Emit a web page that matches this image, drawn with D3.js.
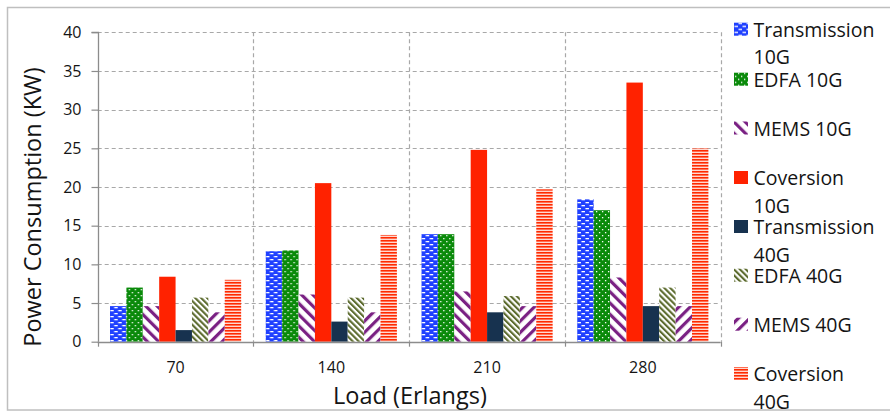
<!DOCTYPE html>
<html>
<head>
<meta charset="utf-8">
<script src="https://cdn.jsdelivr.net/npm/d3@7/dist/d3.min.js"></script>
<style>
  html, body { margin: 0; padding: 0; background: #fff; }
  svg { display: block; font-family: "Open Sans", sans-serif; }
</style>
</head>
<body>
<svg id="chart" width="890" height="412"></svg>
<script>
// Load points (Erlangs)
const categories = ["70", "140", "210", "280"];

// Power consumption per component (kW)
const transmission10G = [4.6, 11.7, 13.9, 18.4];
const edfa10G         = [7.0, 11.8, 13.9, 17.0];
const mems10G         = [4.6, 6.1, 6.5, 8.3];
const conversion10G   = [8.4, 20.5, 24.8, 33.5];
const transmission40G = [1.5, 2.6, 3.8, 4.6];
const edfa40G         = [5.7, 5.7, 5.9, 7.0];
const mems40G         = [3.8, 3.8, 4.6, 4.6];
const conversion40G   = [8.0, 13.8, 19.7, 25.0];

const seriesKeys = ["t10", "e10", "m10", "c10", "t40", "e40", "m40", "c40"];
const seriesLabels = [
  ["Transmission", "10G"], ["EDFA 10G"], ["MEMS 10G"], ["Coversion", "10G"],
  ["Transmission", "40G"], ["EDFA 40G"], ["MEMS 40G"], ["Coversion", "40G"]
];
const seriesValues = [transmission10G, edfa10G, mems10G, conversion10G,
                      transmission40G, edfa40G, mems40G, conversion40G];

const yTicks = [0, 5, 10, 15, 20, 25, 30, 35, 40];

const svg = d3.select("#chart");
const margin = { left: 97.7, right: 720.7, top: 32.3, bottom: 341.7 };
const textColor = "#141414";

// ---- fill patterns ----
const defs = svg.append("defs");
function pattern(id, w, h, draw, transform) {
  const p = defs.append("pattern").attr("id", id)
    .attr("patternUnits", "userSpaceOnUse").attr("width", w).attr("height", h);
  if (transform) p.attr("patternTransform", transform);
  draw(p);
}
// blue with white brick dashes
pattern("p-t10", 8, 6, p => {
  p.append("rect").attr("width", 8).attr("height", 6).attr("fill", "#1f40ff");
  p.append("rect").attr("x", 0.5).attr("y", 1).attr("width", 3.5).attr("height", 1.3).attr("fill", "#fff");
  p.append("rect").attr("x", 4.5).attr("y", 4).attr("width", 3.5).attr("height", 1.3).attr("fill", "#fff");
});
// green with white dots
pattern("p-e10", 6, 6, p => {
  p.append("rect").attr("width", 6).attr("height", 6).attr("fill", "#0a8a0a");
  p.append("rect").attr("x", 1).attr("y", 1).attr("width", 1.3).attr("height", 1.3).attr("fill", "#fff");
  p.append("rect").attr("x", 4).attr("y", 4).attr("width", 1.3).attr("height", 1.3).attr("fill", "#fff");
});
// wide purple diagonals
pattern("p-m10", 8, 8, p => {
  p.append("rect").attr("width", 8).attr("height", 8).attr("fill", "#fff");
  p.append("rect").attr("width", 3.2).attr("height", 8).attr("fill", "#7a2183");
}, "rotate(-45)");
pattern("p-m40", 8, 8, p => {
  p.append("rect").attr("width", 8).attr("height", 8).attr("fill", "#fff");
  p.append("rect").attr("width", 3.2).attr("height", 8).attr("fill", "#7a2183");
}, "rotate(45)");
// thin olive diagonals
pattern("p-e40", 4.2, 4.2, p => {
  p.append("rect").attr("width", 4.2).attr("height", 4.2).attr("fill", "#fff");
  p.append("rect").attr("width", 2.1).attr("height", 4.2).attr("fill", "#5c6b2e");
}, "rotate(-45)");
// red horizontal lines
pattern("p-c40", 4, 3, p => {
  p.append("rect").attr("width", 4).attr("height", 3).attr("fill", "#ffd8d0");
  p.append("rect").attr("y", 0).attr("width", 4).attr("height", 1.6).attr("fill", "#ff2a00");
});

const fills = {
  t10: "url(#p-t10)", e10: "url(#p-e10)", m10: "url(#p-m10)", c10: "#ff2200",
  t40: "#17324f", e40: "url(#p-e40)", m40: "url(#p-m40)", c40: "url(#p-c40)"
};

// ---- outer frame ----
svg.append("rect").attr("x", 7.5).attr("y", 7.5).attr("width", 900).attr("height", 402.5)
  .attr("fill", "#fff").attr("stroke", "#bfbfbf").attr("stroke-width", 1.5);

// ---- scales ----
const x0 = d3.scaleBand().domain(categories).range([margin.left, margin.right]);
const x1 = d3.scaleBand().domain(seriesKeys)
  .range([12.3, x0.bandwidth() - 12.3]);
const y = d3.scaleLinear().domain([0, 40]).range([margin.bottom, margin.top]);

const gridColor = "#a8a8a8";

// horizontal grid
svg.append("g").selectAll("line").data(yTicks.filter(d => d > 0)).join("line")
  .attr("x1", margin.left).attr("x2", margin.right)
  .attr("y1", d => Math.round(y(d)) + 0.5).attr("y2", d => Math.round(y(d)) + 0.5)
  .attr("stroke", gridColor).attr("stroke-width", 1.2).attr("stroke-dasharray", "4,3");

// vertical grid at category boundaries
const boundaries = categories.map(c => x0(c) + x0.bandwidth());
svg.append("g").selectAll("line").data(boundaries).join("line")
  .attr("x1", d => Math.round(d) + 0.5).attr("x2", d => Math.round(d) + 0.5)
  .attr("y1", margin.top).attr("y2", margin.bottom)
  .attr("stroke", gridColor).attr("stroke-width", 1.2).attr("stroke-dasharray", "4,3");

// ---- bars ----
const rows = categories.map((c, i) => ({
  cat: c,
  vals: seriesKeys.map((k, j) => ({ key: k, value: seriesValues[j][i] }))
}));
svg.append("g").selectAll("g").data(rows).join("g")
  .attr("transform", d => `translate(${x0(d.cat)},0)`)
  .selectAll("rect").data(d => d.vals).join("rect")
  .attr("x", d => x1(d.key)).attr("width", x1.bandwidth())
  .attr("y", d => y(d.value)).attr("height", d => y(0) - y(d.value))
  .attr("fill", d => fills[d.key]);

// ---- axes ----
const yAxis = d3.axisLeft(y).tickValues(yTicks).tickSize(7).tickPadding(10);
const gy = svg.append("g").attr("transform", `translate(${Math.round(margin.left) + 0.5},0)`).call(yAxis);
gy.select(".domain").attr("stroke", "#8c8c8c").attr("stroke-width", 1.3)
  .attr("d", `M-7,${y(40)}H0V${y(0)}`);
gy.selectAll(".tick line").attr("stroke", "#8c8c8c").attr("stroke-width", 1.2);
gy.selectAll(".tick text").attr("font-size", 16).attr("fill", textColor)
  .attr("font-family", "Open Sans, sans-serif");

const xAxisLine = svg.append("g");
xAxisLine.append("line").attr("x1", margin.left).attr("x2", margin.right)
  .attr("y1", Math.round(y(0)) + 0.5).attr("y2", Math.round(y(0)) + 0.5)
  .attr("stroke", "#8c8c8c").attr("stroke-width", 1.3);
xAxisLine.selectAll("line.tk").data([margin.left].concat(boundaries)).join("line")
  .attr("class", "tk")
  .attr("x1", d => Math.round(d) + 0.5).attr("x2", d => Math.round(d) + 0.5)
  .attr("y1", y(0)).attr("y2", y(0) + 5)
  .attr("stroke", "#8c8c8c").attr("stroke-width", 1.2);

svg.append("g").selectAll("text").data(categories).join("text")
  .attr("x", d => x0(d) + x0.bandwidth() / 2).attr("y", 373)
  .attr("text-anchor", "middle").attr("font-size", 16).attr("fill", textColor)
  .text(d => d);

// ---- axis titles ----
svg.append("text").attr("x", 410).attr("y", 404)
  .attr("text-anchor", "middle").attr("font-size", 23.5).attr("fill", textColor)
  .text("Load (Erlangs)");
svg.append("text").attr("transform", "translate(41,207) rotate(-90)")
  .attr("text-anchor", "middle").attr("font-size", 23.5).attr("fill", textColor)
  .text("Power Consumption (KW)");

// ---- legend ----
const legendBaselines = [36.7, 86.7, 135.5, 185, 234, 282.7, 331.7, 381];
const lg = svg.append("g").selectAll("g").data(seriesKeys).join("g")
  .attr("transform", (d, i) => `translate(734,${legendBaselines[i]})`);
lg.append("rect").attr("x", 0).attr("y", -14).attr("width", 14).attr("height", 13)
  .attr("fill", d => fills[d]);
lg.append("text").attr("x", 19.5).attr("font-size", 19.5).attr("fill", textColor)
  .selectAll("tspan").data((d, i) => seriesLabels[i]).join("tspan")
  .attr("x", 19.5).attr("dy", (d, j) => j === 0 ? 0 : 27.5)
  .text(d => d);
</script>
</body>
</html>
